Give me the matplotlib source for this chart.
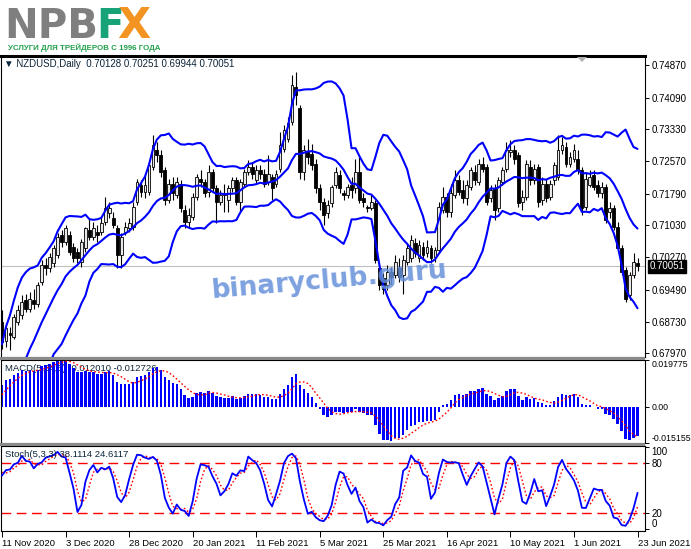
import numpy as np
import pandas as pd
import matplotlib
matplotlib.use("Agg")
import matplotlib.pyplot as plt
import matplotlib.transforms as mtransforms
from matplotlib.patches import Rectangle, Polygon
from matplotlib import font_manager

# ==========================================
# 1. Data (NZDUSD daily)
# ==========================================

# closes / highs / lows before the first visible bar, only used to warm up the indicators
PRE_CLOSE = [
    0.6700, 0.6715, 0.6750, 0.6730, 0.6760, 0.6700, 0.6630, 0.6580, 0.6570, 0.6550,
    0.6580, 0.6590, 0.6615, 0.6630, 0.6620, 0.6630, 0.6590, 0.6620, 0.6650, 0.6680,
    0.6665, 0.6630, 0.6640, 0.6590, 0.6600, 0.6570, 0.6580, 0.6650, 0.6650, 0.6660,
    0.6685, 0.6690, 0.6610, 0.6570, 0.6600, 0.6600, 0.6640, 0.6650, 0.6700, 0.6730,
    0.6750, 0.6775,
]
PRE_HIGH = [0.6640, 0.6620, 0.6640, 0.6670, 0.6700, 0.6720, 0.6760, 0.6860, 0.6800]
PRE_LOW = [0.6560, 0.6550, 0.6580, 0.6590, 0.6610, 0.6640, 0.6690, 0.6720, 0.6730]

OPEN = [
    .6872, .6826, .6846, .6836, .6872, .6888, .6924, .6904, .6924, .6916,
    .6968, .7008, .7000, .7012, .7032, .7080, .7064, .7080, .7052, .7040,
    .7016, .7048, .7092, .7076, .7088, .7088, .7112, .7132, .7120, .7096,
    .7032, .7088, .7096, .7100, .7160, .7199, .7184, .7184, .7243, .7283,
    .7271, .7235, .7164, .7203, .7176, .7203, .7140, .7112, .7124, .7172,
    .7215, .7207, .7184, .7231, .7192, .7160, .7176, .7164, .7192, .7211,
    .7160, .7203, .7231, .7243, .7211, .7235, .7227, .7207, .7219, .7203,
    .7239, .7287, .7311, .7351, .7435, .7383, .7231, .7279, .7275, .7251,
    .7192, .7160, .7132, .7156, .7199, .7223, .7180, .7176, .7199, .7192,
    .7231, .7168, .7148, .7144, .7156, .7000, .6976, .6960, .6992, .6984,
    .7000, .6984, .7016, .7024, .7060, .7024, .7052, .7036, .7048, .7028,
    .7044, .7140, .7172, .7136, .7176, .7211, .7188, .7168, .7195, .7231,
    .7207, .7251, .7243, .7168, .7192, .7144, .7207, .7239, .7279, .7283,
    .7271, .7160, .7172, .7243, .7211, .7243, .7164, .7203, .7172, .7211,
    .7219, .7283, .7291, .7251, .7263, .7263, .7235, .7148, .7199, .7223,
    .7199, .7180, .7195, .7136, .7144, .7100, .7048, .6996, .6936, .6984,
    .70128,
]
HIGH = [
    .6900, .6870, .6860, .6892, .6912, .6936, .6940, .6944, .6952, .6968,
    .7020, .7024, .7036, .7056, .7084, .7092, .7104, .7090, .7060, .7050,
    .7070, .7100, .7120, .7112, .7104, .7124, .7172, .7160, .7136, .7104,
    .7084, .7112, .7120, .7160, .7215, .7211, .7223, .7255, .7319, .7303,
    .7283, .7243, .7215, .7219, .7219, .7211, .7152, .7144, .7180, .7227,
    .7235, .7215, .7247, .7239, .7199, .7188, .7203, .7199, .7219, .7219,
    .7215, .7239, .7259, .7255, .7247, .7247, .7239, .7271, .7227, .7235,
    .7327, .7343, .7363, .7463, .7471, .7391, .7295, .7311, .7299, .7263,
    .7203, .7168, .7164, .7199, .7243, .7235, .7188, .7203, .7219, .7263,
    .7267, .7180, .7152, .7176, .7164, .7016, .6988, .7008, .7004, .7032,
    .7024, .7032, .7060, .7080, .7072, .7068, .7064, .7068, .7056, .7052,
    .7160, .7195, .7180, .7203, .7235, .7223, .7211, .7211, .7243, .7247,
    .7263, .7267, .7251, .7199, .7203, .7219, .7243, .7303, .7307, .7295,
    .7279, .7188, .7259, .7259, .7251, .7251, .7219, .7215, .7211, .7255,
    .7319, .7315, .7303, .7279, .7299, .7283, .7243, .7231, .7235, .7235,
    .7211, .7207, .7203, .7160, .7152, .7112, .7056, .7004, .6992, .7036,
    .70251,
]
LOW = [
    .6808, .6812, .6804, .6830, .6864, .6880, .6896, .6896, .6904, .6908,
    .6960, .6984, .6992, .7004, .7024, .7052, .7056, .7032, .7016, .7012,
    .7004, .7040, .7068, .7068, .7064, .7080, .7104, .7120, .7096, .7000,
    .7000, .7080, .7088, .7092, .7152, .7172, .7168, .7176, .7235, .7255,
    .7219, .7152, .7156, .7164, .7168, .7136, .7096, .7096, .7116, .7164,
    .7195, .7172, .7172, .7184, .7108, .7152, .7136, .7136, .7184, .7152,
    .7136, .7195, .7223, .7215, .7203, .7215, .7195, .7199, .7164, .7195,
    .7231, .7279, .7303, .7343, .7391, .7215, .7211, .7251, .7235, .7180,
    .7140, .7104, .7120, .7148, .7192, .7180, .7164, .7168, .7168, .7180,
    .7156, .7148, .7136, .7140, .7012, .6948, .6940, .6948, .6964, .6976,
    .6968, .6940, .7008, .7016, .7028, .7016, .7020, .7028, .7012, .7016,
    .7036, .7132, .7124, .7124, .7168, .7176, .7156, .7152, .7188, .7199,
    .7199, .7231, .7152, .7160, .7116, .7136, .7199, .7231, .7267, .7251,
    .7148, .7140, .7164, .7199, .7203, .7148, .7152, .7160, .7164, .7199,
    .7211, .7275, .7243, .7243, .7255, .7227, .7128, .7140, .7195, .7188,
    .7172, .7168, .7108, .7120, .7092, .7040, .6984, .6920, .6924, .6976,
    .69944,
]
CLOSE = [
    .6824, .6858, .6840, .6884, .6900, .6920, .6904, .6928, .6916, .6960,
    .7008, .7000, .7028, .7048, .7076, .7064, .7096, .7040, .7024, .7026,
    .7064, .7096, .7076, .7096, .7080, .7108, .7144, .7144, .7104, .7032,
    .7076, .7100, .7108, .7148, .7207, .7184, .7199, .7247, .7295, .7271,
    .7231, .7164, .7203, .7180, .7207, .7144, .7112, .7128, .7172, .7219,
    .7207, .7180, .7231, .7192, .7160, .7176, .7180, .7192, .7211, .7160,
    .7207, .7231, .7243, .7227, .7235, .7227, .7203, .7227, .7192, .7227,
    .7295, .7331, .7347, .7439, .7415, .7231, .7283, .7267, .7247, .7192,
    .7160, .7128, .7152, .7195, .7231, .7192, .7176, .7195, .7188, .7231,
    .7164, .7160, .7144, .7160, .7020, .6960, .6952, .6992, .6980, .7016,
    .6980, .7020, .7048, .7068, .7036, .7056, .7032, .7052, .7024, .7044,
    .7148, .7172, .7136, .7180, .7211, .7184, .7168, .7199, .7235, .7211,
    .7251, .7239, .7160, .7188, .7140, .7211, .7235, .7283, .7283, .7263,
    .7156, .7172, .7251, .7211, .7239, .7160, .7203, .7168, .7203, .7247,
    .7283, .7295, .7251, .7267, .7283, .7235, .7144, .7215, .7219, .7195,
    .7180, .7195, .7116, .7144, .7100, .7048, .6992, .6928, .6984, .7016,
    .70051,
]

DATE_LABELS = ["11 Nov 2020", "3 Dec 2020", "28 Dec 2020", "20 Jan 2021", "11 Feb 2021",
               "5 Mar 2021", "25 Mar 2021", "16 Apr 2021", "10 May 2021", "1 Jun 2021",
               "23 Jun 2021"]
DATE_BARS = [0, 16, 32, 48, 64, 80, 96, 112, 128, 144, 160]

PRICE_TICKS = [0.74870, 0.74090, 0.73330, 0.72570, 0.71790, 0.71030,
               0.70270, 0.69490, 0.68730, 0.67970]
PRICE_RANGE = (0.67881, 0.75085)
LAST_PRICE = 0.70051
MACD_RANGE = (-0.015155, 0.019775)
STOCH_LEVELS = [20, 80]

TITLE_MAIN = "\u25bc NZDUSD,Daily  0.70128 0.70251 0.69944 0.70051"
TITLE_MACD = "MACD(5,34,5) -0.012010 -0.012726"
TITLE_STOCH = "Stoch(5,3,3) 38.1114 24.6117"

BB_PERIOD = 14
BB_DEV = 2

assert all(len(a) == 161 for a in (OPEN, HIGH, LOW, CLOSE))

# ==========================================
# 2. Indicators (Bollinger, MACD 5/34/5, Stoch 5/3/3)
# ==========================================

n_pre = len(PRE_CLOSE)
close_all = pd.Series(PRE_CLOSE + CLOSE)
mid = close_all.rolling(BB_PERIOD).mean()
sd = close_all.rolling(BB_PERIOD).std(ddof=0)
bb_mid = mid.values[n_pre:]
bb_up = (mid + BB_DEV * sd).values[n_pre:]
bb_lo = (mid - BB_DEV * sd).values[n_pre:]

macd_all = close_all.ewm(span=5, adjust=False).mean() - close_all.ewm(span=34, adjust=False).mean()
sig_all = macd_all.rolling(5).mean()
macd = macd_all.values[n_pre:]
macd_sig = sig_all.values[n_pre:]

k_pre = len(PRE_HIGH)
hs = pd.Series(PRE_HIGH + HIGH)
ls = pd.Series(PRE_LOW + LOW)
cs = pd.Series(PRE_CLOSE[-k_pre:] + CLOSE)
hh = hs.rolling(5).max()
ll = ls.rolling(5).min()
stoch_k_all = 100 * (cs - ll).rolling(3).sum() / (hh - ll).rolling(3).sum()
stoch_d_all = stoch_k_all.rolling(3).mean()
stoch_k = stoch_k_all.values[k_pre:]
stoch_d = stoch_d_all.values[k_pre:]

# ==========================================
# 3. Figure layout (pixel based, like the MT4 window)
# ==========================================

names = {f.name for f in font_manager.fontManager.ttflist}
UI_FONT = "Liberation Sans" if "Liberation Sans" in names else "DejaVu Sans"
plt.rcParams["font.family"] = [UI_FONT, "DejaVu Sans"]

W, H = 691, 549
fig = plt.figure(figsize=(W / 100, H / 100), dpi=100)
fig.patch.set_facecolor("white")


def box(x0, y0, x1, y1):
    return [x0 / W, 1 - y1 / H, (x1 - x0) / W, (y1 - y0) / H]


def fx(x):
    return x / W


def fy(y):
    return 1 - y / H


CHART_R = 645
ax_p = fig.add_axes(box(0.5, 56, CHART_R, 357))
ax_m = fig.add_axes(box(0.5, 360, CHART_R, 443))
ax_s = fig.add_axes(box(0.5, 446, CHART_R, 531))

BAR_PX = 3.975
BAR0_PX = 1.5
xlim = (-BAR0_PX / BAR_PX, (CHART_R - BAR0_PX) / BAR_PX)

BLUE = "#0000ff"
RED = "#ff0000"
TXT = "#0c2438"

for ax in (ax_p, ax_m, ax_s):
    ax.set_xlim(*xlim)
    ax.set_facecolor("white")
    for s in ax.spines.values():
        s.set_color("black")
        s.set_linewidth(0.8)
    ax.yaxis.tick_right()
    ax.tick_params(axis="y", direction="out", length=3, width=0.7, labelsize=7,
                   pad=1.5, colors="black")
    ax.tick_params(axis="x", bottom=False, labelbottom=False)
ax_p.spines["top"].set_linewidth(2.2)

# separators between sub-windows
for y0 in (357, 443):
    fig.patches.append(Rectangle((fx(0), fy(y0 + 3)), fx(CHART_R), 3 / H,
                                 transform=fig.transFigure, fc="#8a8a8a", ec="none"))

# ---------- main price window ----------
idx = np.arange(len(CLOSE))
o, h, l, c = (np.array(a) for a in (OPEN, HIGH, LOW, CLOSE))
ax_p.set_ylim(*PRICE_RANGE)
ax_p.axhline(LAST_PRICE, color="#c0c0c0", lw=0.8, zorder=1)
ax_p.vlines(idx, l, h, color="black", lw=0.8, zorder=2)
for i in idx:
    bottom = min(o[i], c[i])
    height = max(abs(c[i] - o[i]), 0.00004)
    bull = c[i] >= o[i]
    ax_p.add_patch(Rectangle((i - 0.36, bottom), 0.72, height,
                             fc="#e8e8e8" if bull else "black", ec="black",
                             lw=0.6, zorder=3))
for band in (bb_up, bb_mid, bb_lo):
    ax_p.plot(idx, band, color=BLUE, lw=1.5, zorder=4, solid_capstyle="round")

ax_p.set_yticks(PRICE_TICKS)
ax_p.set_yticklabels([f"{v:.5f}" for v in PRICE_TICKS])
trans = mtransforms.blended_transform_factory(ax_p.transAxes, ax_p.transData)
ax_p.text(1.007, LAST_PRICE, f"{LAST_PRICE:.5f}", transform=trans, ha="left",
          va="center", fontsize=7, color="white", zorder=10, clip_on=False,
          bbox=dict(boxstyle="square,pad=0.15", fc="black", ec="black"))
ax_p.text(0.006, 0.973, TITLE_MAIN, transform=ax_p.transAxes,
          fontsize=7, color=TXT, va="center", ha="left", zorder=6)

# chart-shift marker
fig.patches.append(Polygon([(fx(577), fy(57)), (fx(587), fy(57)), (fx(582), fy(62))],
                           closed=True, transform=fig.transFigure, fc="#b0b0b0", ec="none"))

# watermark
fig.text(fx(330), fy(281), "binaryclub.guru", fontsize=19, fontweight="bold",
         family="DejaVu Sans", color="#6690da", alpha=0.85, rotation=5,
         ha="center", va="center", zorder=20)

# ---------- MACD window ----------
ax_m.set_ylim(*MACD_RANGE)
ax_m.bar(idx, macd, width=0.62, color=BLUE, zorder=2)
ax_m.plot(idx, macd_sig, color=RED, lw=1.0, ls=(0, (1.2, 1.6)), zorder=3)
ax_m.set_yticks([MACD_RANGE[1], 0.0, MACD_RANGE[0]])
ax_m.set_yticklabels([f"{MACD_RANGE[1]:.6f}", "0.00", f"{MACD_RANGE[0]:.6f}"])
ax_m.tick_params(axis="y", labelsize=6.3)
tl = ax_m.get_yticklabels()
tl[0].set_va("top")
tl[2].set_va("bottom")
ax_m.text(0.007, 0.9, TITLE_MACD, transform=ax_m.transAxes, fontsize=6.8, color=TXT,
          va="center", ha="left", zorder=1)

# ---------- Stochastic window ----------
ax_s.set_ylim(-2.5, 101.25)
for lev in STOCH_LEVELS:
    ax_s.axhline(lev, color=RED, lw=1.0, ls=(0, (7, 4)), zorder=1)
ax_s.plot(idx, stoch_k, color=BLUE, lw=1.3, zorder=3)
ax_s.plot(idx, stoch_d, color=RED, lw=1.0, ls=(0, (1.2, 1.6)), zorder=2)
ax_s.set_yticks([100, 80, 20, 0])
ax_s.set_yticklabels(["100", "80", "20", "0"])
tl = ax_s.get_yticklabels()
tl[0].set_va("top")
tl[3].set_va("bottom")
ax_s.text(0.007, 0.9, TITLE_STOCH, transform=ax_s.transAxes, fontsize=6.8, color=TXT,
          va="center", ha="left", zorder=4)

ax_s.tick_params(axis="x", bottom=True, labelbottom=True, direction="out", length=4,
                 width=0.7, labelsize=6.8, pad=1.5, colors="black")
ax_s.set_xticks(DATE_BARS)
ax_s.set_xticklabels(DATE_LABELS, ha="left")

# ---------- logo ----------
fig.text(fx(4), fy(38), "NPB", fontsize=29, fontweight="heavy", family="DejaVu Sans",
         color="#7f7f7f", va="baseline", ha="left")
fig.text(fx(96), fy(38), "F", fontsize=29, fontweight="heavy", family="DejaVu Sans",
         color="#17a377", va="baseline", ha="left")
fig.text(fx(117), fy(38), "X", fontsize=31, fontweight="heavy", family="DejaVu Sans",
         color="#f39322", va="baseline", ha="left")
fig.text(fx(8), fy(50), "УСЛУГИ ДЛЯ ТРЕЙДЕРОВ С 1996 ГОДА", fontsize=5.7,
         fontweight="bold", color="#23a04c", va="baseline", ha="left")

fig.savefig("out.png", dpi=100)
